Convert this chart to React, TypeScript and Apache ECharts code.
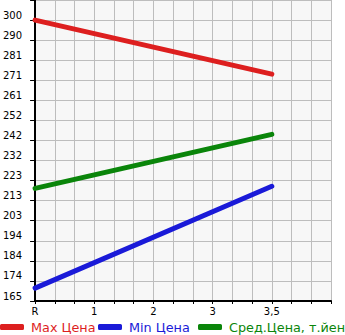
import React, { useEffect, useRef } from "react";
import * as echarts from "echarts";

const xLabels = ["R", "1", "2", "3", "3,5"];
const yTickLabels = ["165", "174", "184", "194", "203", "213", "223", "232", "242", "252", "261", "271", "281", "290", "300"];
const yMin = 164.8;
const yStep = 9.657;
const maxPrice = [[0, 300], [4, 274]];
const minPrice = [[0, 171], [4, 220]];
const avgPrice = [[0, 219], [4, 245]];
const seriesNames = ["Max Цена", "Min Цена", "Сред.Цена, т.йен"];
const colors = ["#dd1f1f", "#1a1ad8", "#0a850a"];

export default function App() {
  const ref = useRef<HTMLDivElement>(null);
  useEffect(() => {
    if (!ref.current) return;
    const chart = echarts.init(ref.current, null, { renderer: "svg" });
    const font = "DejaVu Sans";
    const mk = (name: string, data: number[][], color: string) => ({
      name,
      type: "line",
      data,
      showSymbol: false,
      symbol: "none",
      color,
      lineStyle: { width: 5, color, cap: "round" },
    });
    const legendLefts = [0, 98, 198];
    chart.setOption({
      animation: false,
      textStyle: { fontFamily: font },
      grid: {
        left: 31,
        right: 14,
        top: 0,
        bottom: 34,
        show: true,
        backgroundColor: "#f7f7f7",
        borderWidth: 0,
      },
      legend: seriesNames.map((n, i) => ({
        left: legendLefts[i],
        top: 320,
        padding: 0,
        itemWidth: 24,
        itemHeight: 6,
        icon: "roundRect",
        textStyle: { fontSize: 12.8, lineHeight: 14, fontFamily: font, color: colors[i], padding: [0, 0, 0, 2] },
        data: [n],
      })),
      xAxis: {
        type: "value",
        min: 0,
        max: 5,
        interval: 1,
        axisLine: { show: true, lineStyle: { color: "#000", width: 2 } },
        axisTick: { show: true, length: 3, lineStyle: { color: "#000" } },
        minorTick: { show: true, splitNumber: 3, length: 3, lineStyle: { color: "#000" } },
        splitLine: { show: true, lineStyle: { color: "#bdbdbd", width: 1 } },
        minorSplitLine: { show: true, lineStyle: { color: "#bdbdbd", width: 1 } },
        axisLabel: {
          fontSize: 10,
          color: "#000",
          margin: 5,
          fontFamily: font,
          formatter: (v: number) => xLabels[Math.round(v)] ?? "",
        },
      },
      yAxis: {
        type: "value",
        min: yMin,
        max: yMin + 15 * yStep,
        interval: yStep,
        axisLine: { show: true, lineStyle: { color: "#000", width: 2 } },
        axisTick: { show: true, length: 5, lineStyle: { color: "#000" } },
        splitLine: { show: true, lineStyle: { color: "#bdbdbd", width: 1 } },
        axisLabel: {
          fontSize: 10,
          color: "#000",
          margin: 13,
          fontFamily: font,
          verticalAlign: "bottom",
          formatter: (_v: number, i: number) => yTickLabels[i] ?? "",
        },
      },
      series: [
        mk(seriesNames[0], maxPrice, colors[0]),
        mk(seriesNames[1], minPrice, colors[1]),
        mk(seriesNames[2], avgPrice, colors[2]),
      ],
    });
    return () => chart.dispose();
  }, []);
  return <div ref={ref} style={{ width: 345, height: 335, position: "absolute", left: 0, top: 0 }} />;
}
